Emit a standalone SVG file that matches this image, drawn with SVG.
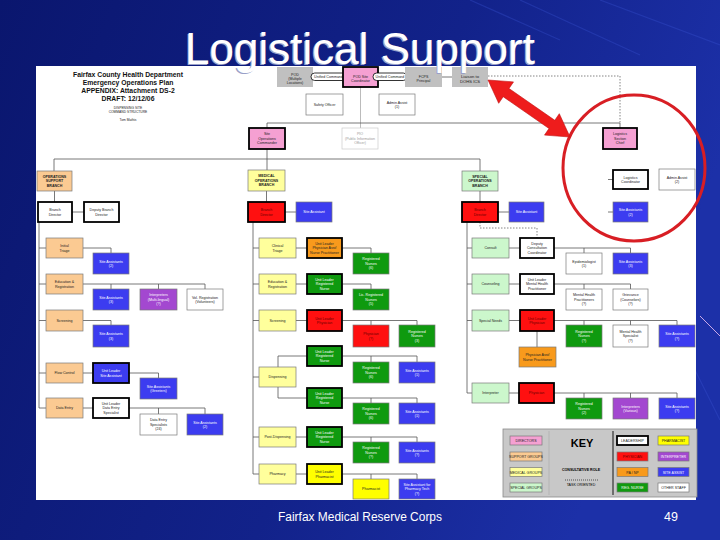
<svg xmlns="http://www.w3.org/2000/svg" width="720" height="540" viewBox="0 0 720 540">
<defs>
<linearGradient id="bg" x1="0" y1="0" x2="1" y2="0.3">
<stop offset="0" stop-color="#0a166e"/>
<stop offset="0.6" stop-color="#12228a"/>
<stop offset="1" stop-color="#1c30a8"/>
</linearGradient>
<style>
.bx{stroke:#7a7a7a;stroke-width:.7}
.ld{stroke:#000;stroke-width:1.8}
.pk{fill:#f5a0d2}.pc{fill:#fbca92}.yl{fill:#ffff9c}.lg{fill:#ccf7cc}.rd{fill:#ff1010}.bl{fill:#3c3cf0}.gr{fill:#0f9a0f}.pu{fill:#a348d0}.or{fill:#f89a1c}.yy{fill:#ffff00}.wh{fill:#ffffff}.gy{fill:#c0c0c0}
text{font-family:"Liberation Sans",Arial,sans-serif}
.t{font-size:3.6px;text-anchor:middle;fill:#222}
.w{fill:#fff}
.dr{fill:#600}
.b{font-weight:bold}
#connectors path{stroke:#555;stroke-width:.8;fill:none}
#connectors path.dot{stroke-dasharray:1.5 1.5;stroke:#666}
#connectors path.lt{stroke:#aaa}
</style>
</defs>
<rect x="0" y="0" width="720" height="540" fill="url(#bg)"/>
<g stroke="#3a52d0" stroke-opacity="0.35" stroke-width="1.2">
<line x1="470" y1="0" x2="560" y2="40"/>
<line x1="520" y1="0" x2="640" y2="55"/>
<line x1="600" y1="0" x2="720" y2="45"/>
<line x1="690" y1="360" x2="720" y2="420"/>
</g>
<line x1="700" y1="316" x2="720" y2="336" stroke="#c8a8e8" stroke-width="1"/>
<rect x="36" y="66" width="660" height="434" fill="#ffffff"/>

<g id="header">
<text x="128" y="77.3" font-size="6.8" font-weight="bold" text-anchor="middle" fill="#111">Fairfax County Health Department</text>
<text x="128" y="85" font-size="6.8" font-weight="bold" text-anchor="middle" fill="#111">Emergency Operations Plan</text>
<text x="128" y="92.6" font-size="6.8" font-weight="bold" text-anchor="middle" fill="#111">APPENDIX:  Attachment DS-2</text>
<text x="128" y="100.6" font-size="6.8" font-weight="bold" text-anchor="middle" fill="#111">DRAFT:  12/12/06</text>
<text x="128" y="109" font-size="3.3" text-anchor="middle" fill="#222">DISPENSING SITE</text>
<text x="128" y="113" font-size="3.3" text-anchor="middle" fill="#222">COMMAND STRUCTURE</text>
<text x="128" y="121" font-size="3.3" text-anchor="middle" fill="#222">Tom Mathis</text>
</g>

<g id="connectors">
<path d="M313 77H343M378 77H405M442 77H452"/>
<path class="lt" d="M360.5 87V128"/>
<path d="M267 123H620M267 123V128M620 123V128"/>
<path class="dot" d="M488 76H620V123"/>
<path d="M267 149V170M54 159H480M54 159V171M480 159V171"/>
<path d="M54.5 191V202M266.5 191V202M480 191V202"/>
<path d="M72 212H84M285 212H296M498 212H509"/>
<path class="dot" d="M480 222V228H537V238"/>
<path d="M608 179.5H613M608 212H613"/>
<path d="M39 222V408M39 248H46M39 284H46M39 320.5H46M39 373H46M39 408H46"/>
<path d="M83 248H111V253M83 284H205M111 284V289M158.5 284V289M205 284V289M83 320.5H111V325"/>
<path d="M83 373H93M129 373H158.5V378M83 408H93M129 408H205M158.5 408V414M205 408V414"/>
<path d="M253 222V474M253 248H259M253 284H259M253 320.5H259M253 377H259M253 437H259M253 474H259"/>
<path d="M296 248H307M342 248H371V253M296 284H307M342 284H371V289"/>
<path d="M296 320.5H307M342 320.5H417M371 320.5V325M417 320.5V325"/>
<path d="M278 356V398M278 356H307M278 398H307M342 356H417M371 356V362M417 356V362M342 398H417M371 398V403M417 398V403"/>
<path d="M296 437H307M342 437H417M371 437V442M417 437V442M296 474H307M342 474H417M371 474V479M417 474V479"/>
<path d="M467 222V393M467 248H472M467 284H472M467 320.5H472M467 393H472"/>
<path d="M509 248H520M554 248H630.5M584 248V253M630.5 248V253M509 284H520M554 284H630.5M584 284V289M630.5 284V289"/>
<path d="M509 320.5H520M554 320.5H677M584 320.5V325M630.5 320.5V325M677 320.5V325M537 331V347"/>
<path d="M509 393H519M554 393H677M584 393V398M630.5 393V398M677 393V398"/>
</g>

<g id="pod"><rect class="gy" x="277" y="67" width="36" height="20"/><text class="t" x="295" y="76.2">POD<tspan x="295" dy="3.8">(Multiple</tspan><tspan x="295" dy="3.8">Locations)</tspan></text></g>
<g id="uc1"><rect x="311" y="73" width="35" height="7.5" rx="3.7" fill="#fff" stroke="#000" stroke-width=".8"/><text class="t" x="328.5" y="78.1" fill="#000">Unified Command</text></g>
<g id="coord"><rect class="pk ld" x="343" y="67" width="35" height="20"/><text class="t" x="360.5" y="77.5">POD Site<tspan x="360.5" dy="4.2">Coordinator</tspan></text></g>
<g id="uc2"><rect x="373" y="73" width="34" height="7.5" rx="3.7" fill="#fff" stroke="#000" stroke-width=".8"/><text class="t" x="390" y="78.1" fill="#000">Unified Command</text></g>
<g id="fcps"><rect class="gy" x="405" y="67" width="37" height="20"/><text class="t" x="423.5" y="77.5">FCPS<tspan x="423.5" dy="4.2">Principal</tspan></text></g>
<g id="liaison"><rect class="gy" x="452" y="67" width="36" height="20"/><text class="t" x="470" y="78" style="font-size:4.2px">Liaison to<tspan x="470" dy="4.8">DOHS ICS</tspan></text></g>

<g id="safety"><rect class="wh bx" x="306" y="94" width="37" height="21"/><text class="t" x="324.5" y="105.8">Safety Officer</text></g>
<g id="admin"><rect class="wh bx" x="379" y="94" width="36" height="21"/><text class="t" x="397" y="103.55">Admin Assist<tspan x="397" dy="4.5">(1)</tspan></text></g>
<g id="sitecmd"><rect class="pk ld" x="249" y="128" width="36" height="21"/><text class="t" x="267" y="135.3">Site<tspan x="267" dy="4.5">Operations</tspan><tspan x="267" dy="4.5">Commander</tspan></text></g>
<g id="pio"><rect x="342" y="128" width="36" height="21" fill="#fff" stroke="#ccc" stroke-width=".7"/><text class="t" x="360" y="135.3" style="fill:#999">PIO<tspan x="360" dy="4.5">(Public Information</tspan><tspan x="360" dy="4.5">Officer)</tspan></text></g>
<g id="logchief"><rect class="pk ld" x="603" y="128" width="34" height="21"/><text class="t" x="620" y="135.3">Logistics<tspan x="620" dy="4.5">Section</tspan><tspan x="620" dy="4.5">Chief</tspan></text></g>

<g id="ops"><rect class="pc bx" x="37" y="171" width="35" height="20"/><text class="t b" x="54.5" y="177.8">OPERATIONS<tspan x="54.5" dy="4.5">SUPPORT</tspan><tspan x="54.5" dy="4.5">BRANCH</tspan></text></g>
<g id="med"><rect class="yl bx" x="248" y="170" width="37" height="21"/><text class="t b" x="266.5" y="177.3">MEDICAL<tspan x="266.5" dy="4.5">OPERATIONS</tspan><tspan x="266.5" dy="4.5">BRANCH</tspan></text></g>
<g id="spec"><rect class="lg bx" x="462" y="171" width="36" height="20"/><text class="t b" x="480" y="177.8">SPECIAL<tspan x="480" dy="4.5">OPERATIONS</tspan><tspan x="480" dy="4.5">BRANCH</tspan></text></g>

<g id="opsdir"><rect class="wh ld" x="38" y="202" width="34" height="20"/><text class="t" x="55" y="211.05">Branch<tspan x="55" dy="4.5">Director</tspan></text></g>
<g id="opsdep"><rect class="wh ld" x="84" y="202" width="35" height="20"/><text class="t" x="101.5" y="211.05">Deputy Branch<tspan x="101.5" dy="4.5">Director</tspan></text></g>
<g id="meddir"><rect class="rd ld" x="248" y="202" width="37" height="20"/><text class="t dr" x="266.5" y="211.05">Branch<tspan x="266.5" dy="4.5">Director</tspan></text></g>
<g id="medsa"><rect class="bl bx" x="296" y="202" width="36" height="20"/><text class="t w" x="314" y="213.3">Site Assistant</text></g>
<g id="specdir"><rect class="rd ld" x="462" y="202" width="36" height="20"/><text class="t dr" x="480" y="211.05">Branch<tspan x="480" dy="4.5">Director</tspan></text></g>
<g id="specsa"><rect class="bl bx" x="509" y="202" width="35" height="20"/><text class="t w" x="526.5" y="213.3">Site Assistant</text></g>
<g id="logcoord"><rect class="wh ld" x="613" y="170" width="35" height="19"/><text class="t" x="630.5" y="178.55">Logistics<tspan x="630.5" dy="4.5">Coordinator</tspan></text></g>
<g id="logadmin"><rect class="wh bx" x="659" y="169" width="36" height="21"/><text class="t" x="677" y="178.55">Admin Assist<tspan x="677" dy="4.5">(2)</tspan></text></g>
<g id="logsa"><rect class="bl bx" x="613" y="202" width="35" height="20"/><text class="t w" x="630.5" y="211.05">Site Assistants<tspan x="630.5" dy="4.5">(2)</tspan></text></g>

<g id="triage"><rect class="pc bx" x="46" y="238" width="37" height="20"/><text class="t" x="64.5" y="247.05">Initial<tspan x="64.5" dy="4.5">Triage</tspan></text></g>
<g id="sa_t"><rect class="bl bx" x="93" y="253" width="36" height="21"/><text class="t w" x="111" y="262.55">Site Assistants<tspan x="111" dy="4.5">(2)</tspan></text></g>
<g id="edreg"><rect class="pc bx" x="46" y="274" width="37" height="20"/><text class="t" x="64.5" y="283.05">Education &amp;<tspan x="64.5" dy="4.5">Registration</tspan></text></g>
<g id="sa_e"><rect class="bl bx" x="93" y="289" width="36" height="21"/><text class="t w" x="111" y="298.55">Site Assistants<tspan x="111" dy="4.5">(3)</tspan></text></g>
<g id="interp_e"><rect class="pu bx" x="140" y="289" width="37" height="21"/><text class="t w" x="158.5" y="296.3">Interpreters<tspan x="158.5" dy="4.5">(Multi-lingual)</tspan><tspan x="158.5" dy="4.5">(?)</tspan></text></g>
<g id="volreg"><rect class="wh bx" x="187" y="289" width="36" height="21"/><text class="t" x="205" y="298.55">Vol. Registration<tspan x="205" dy="4.5">(Volunteers)</tspan></text></g>
<g id="screen"><rect class="pc bx" x="46" y="310" width="37" height="21"/><text class="t" x="64.5" y="321.8">Screening</text></g>
<g id="sa_s"><rect class="bl bx" x="93" y="325" width="36" height="22"/><text class="t w" x="111" y="335.05">Site Assistants<tspan x="111" dy="4.5">(3)</tspan></text></g>
<g id="flow"><rect class="pc bx" x="46" y="363" width="37" height="20"/><text class="t" x="64.5" y="374.3">Flow Control</text></g>
<g id="ul_flow"><rect class="bl ld" x="93" y="363" width="36" height="20"/><text class="t w" x="111" y="372.05">Unit Leader<tspan x="111" dy="4.5">Site Assistant</tspan></text></g>
<g id="sa_g"><rect class="bl bx" x="140" y="378" width="37" height="21"/><text class="t w" x="158.5" y="387.55">Site Assistants<tspan x="158.5" dy="4.5">(Greeters)</tspan></text></g>
<g id="data"><rect class="pc bx" x="46" y="398" width="37" height="20"/><text class="t" x="64.5" y="409.3">Data Entry</text></g>
<g id="ul_data"><rect class="wh ld" x="93" y="398" width="36" height="20"/><text class="t" x="111" y="404.8">Unit Leader<tspan x="111" dy="4.5">Data Entry</tspan><tspan x="111" dy="4.5">Specialist</tspan></text></g>
<g id="des"><rect class="wh bx" x="140" y="414" width="37" height="21"/><text class="t" x="158.5" y="421.3">Data Entry<tspan x="158.5" dy="4.5">Specialists</tspan><tspan x="158.5" dy="4.5">(24)</tspan></text></g>
<g id="sa_d"><rect class="bl bx" x="187" y="414" width="36" height="21"/><text class="t w" x="205" y="423.55">Site Assistants<tspan x="205" dy="4.5">(2)</tspan></text></g>

<g id="mtriage"><rect class="yl bx" x="259" y="238" width="37" height="20"/><text class="t" x="277.5" y="247.05">Clinical<tspan x="277.5" dy="4.5">Triage</tspan></text></g>
<g id="ul_pa"><rect class="or ld" x="307" y="238" width="35" height="20"/><text class="t" x="324.5" y="244.8">Unit Leader<tspan x="324.5" dy="4.5">Physician Asst/</tspan><tspan x="324.5" dy="4.5">Nurse Practitioner</tspan></text></g>
<g id="rn_t"><rect class="gr bx" x="353" y="253" width="36" height="21"/><text class="t w" x="371" y="260.3">Registered<tspan x="371" dy="4.5">Nurses</tspan><tspan x="371" dy="4.5">(6)</tspan></text></g>
<g id="medreg"><rect class="yl bx" x="259" y="274" width="37" height="20"/><text class="t" x="277.5" y="283.05">Education &amp;<tspan x="277.5" dy="4.5">Registration</tspan></text></g>
<g id="ul_rn1"><rect class="gr ld" x="307" y="274" width="35" height="20"/><text class="t w" x="324.5" y="280.8">Unit Leader<tspan x="324.5" dy="4.5">Registered</tspan><tspan x="324.5" dy="4.5">Nurse</tspan></text></g>
<g id="lrn"><rect class="gr bx" x="353" y="289" width="36" height="21"/><text class="t w" x="371" y="296.3">Lic. Registered<tspan x="371" dy="4.5">Nurses</tspan><tspan x="371" dy="4.5">(5)</tspan></text></g>
<g id="mscreen"><rect class="yl bx" x="259" y="310" width="37" height="21"/><text class="t" x="277.5" y="321.8">Screening</text></g>
<g id="ul_ph"><rect class="rd ld" x="307" y="310" width="35" height="21"/><text class="t dr" x="324.5" y="319.55">Unit Leader<tspan x="324.5" dy="4.5">Physician</tspan></text></g>
<g id="ph"><rect class="rd bx" x="353" y="325" width="36" height="22"/><text class="t dr" x="371" y="335.05">Physician<tspan x="371" dy="4.5">(?)</tspan></text></g>
<g id="rn_s"><rect class="gr bx" x="399" y="325" width="36" height="22"/><text class="t w" x="417" y="332.8">Registered<tspan x="417" dy="4.5">Nurses</tspan><tspan x="417" dy="4.5">(3)</tspan></text></g>
<g id="disp"><rect class="yl bx" x="259" y="367" width="37" height="20"/><text class="t" x="277.5" y="378.3">Dispensing</text></g>
<g id="ul_d1"><rect class="gr ld" x="307" y="346" width="35" height="20"/><text class="t w" x="324.5" y="352.8">Unit Leader<tspan x="324.5" dy="4.5">Registered</tspan><tspan x="324.5" dy="4.5">Nurse</tspan></text></g>
<g id="rn_d1"><rect class="gr bx" x="353" y="362" width="36" height="21"/><text class="t w" x="371" y="369.3">Registered<tspan x="371" dy="4.5">Nurses</tspan><tspan x="371" dy="4.5">(6)</tspan></text></g>
<g id="sa_d1"><rect class="bl bx" x="399" y="362" width="36" height="21"/><text class="t w" x="417" y="371.55">Site Assistants<tspan x="417" dy="4.5">(1)</tspan></text></g>
<g id="ul_d2"><rect class="gr ld" x="307" y="388" width="35" height="20"/><text class="t w" x="324.5" y="394.8">Unit Leader<tspan x="324.5" dy="4.5">Registered</tspan><tspan x="324.5" dy="4.5">Nurse</tspan></text></g>
<g id="rn_d2"><rect class="gr bx" x="353" y="403" width="36" height="21"/><text class="t w" x="371" y="410.3">Registered<tspan x="371" dy="4.5">Nurses</tspan><tspan x="371" dy="4.5">(6)</tspan></text></g>
<g id="sa_d2"><rect class="bl bx" x="399" y="403" width="36" height="21"/><text class="t w" x="417" y="412.55">Site Assistants<tspan x="417" dy="4.5">(1)</tspan></text></g>
<g id="post"><rect class="yl bx" x="259" y="427" width="37" height="20"/><text class="t" x="277.5" y="438.3">Post-Dispensing</text></g>
<g id="ul_p"><rect class="gr ld" x="307" y="427" width="35" height="20"/><text class="t w" x="324.5" y="433.8">Unit Leader<tspan x="324.5" dy="4.5">Registered</tspan><tspan x="324.5" dy="4.5">Nurse</tspan></text></g>
<g id="rn_p"><rect class="gr bx" x="353" y="442" width="36" height="21"/><text class="t w" x="371" y="449.3">Registered<tspan x="371" dy="4.5">Nurses</tspan><tspan x="371" dy="4.5">(?)</tspan></text></g>
<g id="sa_p"><rect class="bl bx" x="399" y="442" width="36" height="21"/><text class="t w" x="417" y="451.55">Site Assistants<tspan x="417" dy="4.5">(?)</tspan></text></g>
<g id="pharm"><rect class="yl bx" x="259" y="464" width="37" height="20"/><text class="t" x="277.5" y="475.3">Pharmacy</text></g>
<g id="ul_phm"><rect class="yy ld" x="307" y="464" width="35" height="20"/><text class="t" x="324.5" y="473.05">Unit Leader<tspan x="324.5" dy="4.5">Pharmacist</tspan></text></g>
<g id="phm"><rect class="yy bx" x="353" y="479" width="36" height="20"/><text class="t" x="371" y="490.3">Pharmacist</text></g>
<g id="sa_phm"><rect class="bl bx" x="399" y="479" width="36" height="20"/><text class="t w" x="417" y="485.8">Site Assistant for<tspan x="417" dy="4.5">Pharmacy Tech</tspan><tspan x="417" dy="4.5">(?)</tspan></text></g>

<g id="consult"><rect class="lg bx" x="472" y="238" width="37" height="20"/><text class="t" x="490.5" y="249.3">Consult</text></g>
<g id="dep_c"><rect class="wh ld" x="520" y="238" width="34" height="20"/><text class="t" x="537" y="244.8">Deputy<tspan x="537" dy="4.5">Consultation</tspan><tspan x="537" dy="4.5">Coordinator</tspan></text></g>
<g id="epi"><rect class="wh bx" x="566" y="253" width="36" height="21"/><text class="t" x="584" y="262.55">Epidemiologist<tspan x="584" dy="4.5">(1)</tspan></text></g>
<g id="sa_c"><rect class="bl bx" x="613" y="253" width="35" height="21"/><text class="t w" x="630.5" y="262.55">Site Assistants<tspan x="630.5" dy="4.5">(3)</tspan></text></g>
<g id="couns"><rect class="lg bx" x="472" y="274" width="37" height="20"/><text class="t" x="490.5" y="285.3">Counseling</text></g>
<g id="ul_mh"><rect class="wh ld" x="520" y="274" width="34" height="20"/><text class="t" x="537" y="280.8">Unit Leader<tspan x="537" dy="4.5">Mental Health</tspan><tspan x="537" dy="4.5">Practitioner</tspan></text></g>
<g id="mhp"><rect class="wh bx" x="566" y="289" width="36" height="21"/><text class="t" x="584" y="296.3">Mental Health<tspan x="584" dy="4.5">Practitioners</tspan><tspan x="584" dy="4.5">(?)</tspan></text></g>
<g id="clergy"><rect class="wh bx" x="613" y="289" width="35" height="21"/><text class="t" x="630.5" y="296.3">Grievance<tspan x="630.5" dy="4.5">(Counselors)</tspan><tspan x="630.5" dy="4.5">(?)</tspan></text></g>
<g id="special"><rect class="lg bx" x="472" y="310" width="37" height="21"/><text class="t" x="490.5" y="321.8">Special Needs</text></g>
<g id="ul_sp"><rect class="rd ld" x="520" y="310" width="34" height="21"/><text class="t dr" x="537" y="319.55">Unit Leader<tspan x="537" dy="4.5">Physician</tspan></text></g>
<g id="rn_sp"><rect class="gr bx" x="566" y="325" width="36" height="22"/><text class="t w" x="584" y="332.8">Registered<tspan x="584" dy="4.5">Nurses</tspan><tspan x="584" dy="4.5">(?)</tspan></text></g>
<g id="mhs"><rect class="wh bx" x="613" y="325" width="35" height="22"/><text class="t" x="630.5" y="332.8">Mental Health<tspan x="630.5" dy="4.5">Specialist</tspan><tspan x="630.5" dy="4.5">(?)</tspan></text></g>
<g id="sa_sp"><rect class="bl bx" x="659" y="325" width="36" height="22"/><text class="t w" x="677" y="335.05">Site Assistants<tspan x="677" dy="4.5">(?)</tspan></text></g>
<g id="pa_sp"><rect class="or bx" x="519" y="347" width="37" height="20"/><text class="t" x="537.5" y="356.05">Physician Asst/<tspan x="537.5" dy="4.5">Nurse Practitioner</tspan></text></g>
<g id="interp"><rect class="lg bx" x="472" y="383" width="37" height="20"/><text class="t" x="490.5" y="394.3">Interpreter</text></g>
<g id="ph_i"><rect class="rd ld" x="519" y="383" width="35" height="20"/><text class="t dr" x="536.5" y="394.3">Physician</text></g>
<g id="rn_i"><rect class="gr bx" x="566" y="398" width="36" height="21"/><text class="t w" x="584" y="405.3">Registered<tspan x="584" dy="4.5">Nurses</tspan><tspan x="584" dy="4.5">(2)</tspan></text></g>
<g id="int_i"><rect class="pu bx" x="613" y="398" width="35" height="21"/><text class="t w" x="630.5" y="407.55">Interpreters<tspan x="630.5" dy="4.5">(Various)</tspan></text></g>
<g id="sa_i"><rect class="bl bx" x="659" y="398" width="36" height="21"/><text class="t w" x="677" y="407.55">Site Assistants<tspan x="677" dy="4.5">(?)</tspan></text></g>

<g id="key">
<rect x="503" y="429" width="194" height="68" fill="#c8c8c8" stroke="#8a8a8a" stroke-width=".8"/>
<line x1="549" y1="431" x2="549" y2="495" stroke="#a8a8a8" stroke-width=".6"/>
<line x1="613" y1="431" x2="613" y2="495" stroke="#000" stroke-width=".9"/>
<rect class="pk bx" x="510" y="436" width="32" height="9"/><text class="t" x="526" y="442.2">DIRECTORS</text>
<rect class="pc bx" x="510" y="452" width="32" height="9"/><text class="t" x="526" y="458.2">SUPPORT GROUPS</text>
<rect class="yl bx" x="510" y="467.5" width="32" height="9"/><text class="t" x="526" y="473.7">MEDICAL GROUPS</text>
<rect class="lg bx" x="510" y="483" width="32" height="9"/><text class="t" x="526" y="489.2">SPECIAL GROUPS</text>
<text x="582" y="447" font-size="11" font-weight="bold" text-anchor="middle" fill="#000">KEY</text>
<text class="t b" x="581" y="471" style="fill:#000">CONSULTATIVE ROLE</text>
<line x1="565" y1="480" x2="598" y2="480" stroke="#000" stroke-width=".6" stroke-dasharray="1 1"/>
<text class="t" x="581" y="486" style="fill:#000">TASK ORIENTED</text>
<rect class="wh ld" x="617" y="436" width="31" height="9"/><text class="t" x="632.5" y="442.2">LEADERSHIP</text>
<rect class="rd bx" x="617" y="452" width="31" height="9"/><text class="t dr" x="632.5" y="458.2">PHYSICIAN</text>
<rect class="or bx" x="617" y="467.5" width="31" height="9"/><text class="t" x="632.5" y="473.7">PA / NP</text>
<rect class="gr bx" x="617" y="483" width="31" height="9"/><text class="t w" x="632.5" y="489.2">REG. NURSE</text>
<rect class="yy bx" x="658" y="436" width="31" height="9"/><text class="t" x="673.5" y="442.2">PHARMACIST</text>
<rect class="pu bx" x="658" y="452" width="31" height="9"/><text class="t w" x="673.5" y="458.2">INTERPRETER</text>
<rect class="bl bx" x="658" y="467.5" width="31" height="9"/><text class="t w" x="673.5" y="473.7">SITE ASSIST</text>
<rect class="wh bx" x="658" y="483" width="31" height="9"/><text class="t" x="673.5" y="489.2">OTHER STAFF</text>
</g>

<g id="highlight">
<ellipse cx="634" cy="168" rx="71" ry="73" fill="none" stroke="#d81e24" stroke-width="3"/>
<polygon points="488,80 513.5,81.9 509,88.5 554.8,120.3 559.3,113.7 570,137 544.5,135.1 549,128.5 503.2,96.7 498.7,103.3" fill="#ee1c1c" stroke="#c01010" stroke-width=".6"/>
</g>

<g id="title">
<text x="358.8" y="65.2" font-size="44" text-anchor="middle" fill="#9aa0c8">Logistical Support</text>
<text x="360" y="64" font-size="44" text-anchor="middle" fill="#ffffff">Logistical Support</text>
</g>
<text x="360" y="521" font-size="12.5" text-anchor="middle" fill="#ffffff" textLength="164" lengthAdjust="spacingAndGlyphs">Fairfax Medical Reserve Corps</text>
<text x="671" y="521" font-size="12.5" text-anchor="middle" fill="#ffffff">49</text>
</svg>
